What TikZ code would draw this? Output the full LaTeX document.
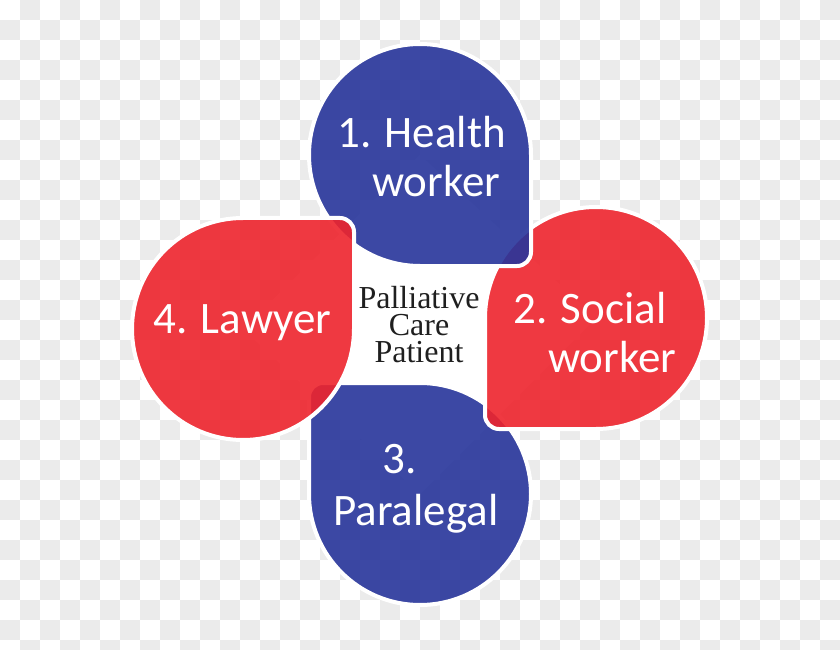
\documentclass[tikz,border=0pt]{standalone}
\usepackage{fontspec}
\setmainfont{Liberation Serif}
\newfontfamily\petalfont{Carlito}
\definecolor{petalblue}{RGB}{39,53,155}
\definecolor{petalred}{RGB}{238,36,45}
\definecolor{checkgray}{RGB}{235,235,235}
\begin{document}
\begin{tikzpicture}[x=1pt, y=1pt,
  blueleaf/.style={fill=petalblue, fill opacity=0.9, draw=white, line width=4pt},
  redleaf/.style={fill=petalred, fill opacity=0.9, draw=white, line width=4pt},
  leaftext/.style={anchor=base west, inner sep=0pt, text=white,
    font=\petalfont\fontsize{45}{54}\selectfont},
  centretext/.style={anchor=north, inner sep=0pt, align=center, text=black!88,
    font=\fontsize{32}{27}\selectfont}]
  \useasboundingbox (0,0) rectangle (840,649);
  \fill[white] (0,0) rectangle (840,649);
  % checker background
  \foreach \i in {0,...,41}
    \foreach \j in {0,...,32} {
      \pgfmathtruncatemacro\odd{mod(\i+\j,2)}
      \ifnum\odd=1 \fill[checkgray] ({20*\i},{629-20*\j}) rectangle ++(20,20); \fi
    }
  \fill[white] (420,494) -- (596,331) -- (420,155) -- (243,320) -- cycle;
  % the four leaves
  \draw[blueleaf] (420,266) arc[start angle=90, end angle=-180, radius=111]
    -- (309,252) arc[start angle=180, end angle=90, radius=14] -- cycle;
  \draw[redleaf] (485,331) arc[start angle=180, end angle=-90, radius=111]
    -- (499,220) arc[start angle=270, end angle=180, radius=14] -- cycle;
  \draw[blueleaf] (420,383) arc[start angle=270, end angle=0, radius=111]
    -- (531,397) arc[start angle=0, end angle=-90, radius=14] -- cycle;
  \draw[redleaf] (354,320) arc[start angle=0, end angle=-270, radius=111]
    -- (340,431) arc[start angle=90, end angle=0, radius=14] -- cycle;
  % labels
  \node[leaftext] (health1) at (337,501) {1. Health};
  \node[leaftext] (health2) at (372,452) {worker};
  \node[leaftext] (social1) at (513,326) {2. Social};
  \node[leaftext] (social2) at (548,277) {worker};
  \node[leaftext] (paralegal1) at (382,176) {3.};
  \node[leaftext] (paralegal2) at (333,124) {Paralegal};
  \node[leaftext] (lawyer) at (153,316) {4. Lawyer};
  \node[centretext] (patient) at (419,363) {Palliative\\Care\\Patient};
\end{tikzpicture}
\end{document}
